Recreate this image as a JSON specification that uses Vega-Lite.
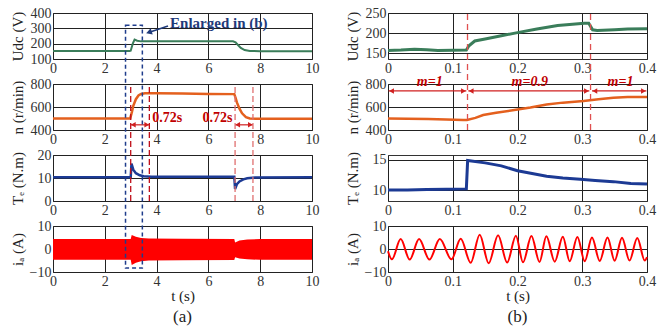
{
  "$schema": "https://vega.github.io/schema/vega-lite/v6.json",
  "padding": {"left": 9, "top": 5, "right": 3, "bottom": 3},
  "background": "white",
  "config": {
    "view": {"stroke": "#333", "strokeWidth": 1},
    "axis": {"labelFont": "Liberation Serif", "labelFontSize": 14, "labelColor": "#333", "titleFont": "Liberation Serif", "titleFontSize": 15, "titleFontWeight": "normal", "titleColor": "#222", "grid": true, "gridColor": "#222", "gridWidth": 1, "ticks": false, "domain": false, "labelPadding": 2, "labelFlush": false, "labelOverlap": false},
    "axisY": {"titleX": -36, "titleBaseline": "middle", "labelPadding": 2},
    "axisX": {"titlePadding": 0}
  },
  "datasets": {
    "udcA": [{"t":0,"v":152},{"t":1,"v":152.5},{"t":2,"v":152},{"t":2.95,"v":152},{"t":3.0,"v":154},{"t":3.08,"v":200},{"t":3.15,"v":227},{"t":3.25,"v":219},{"t":3.4,"v":215},{"t":4,"v":216},{"t":5,"v":216},{"t":6,"v":215},{"t":6.95,"v":215},{"t":7.05,"v":208},{"t":7.15,"v":190},{"t":7.25,"v":172},{"t":7.4,"v":158},{"t":7.6,"v":152},{"t":8,"v":151},{"t":10,"v":151}],
    "nA": [{"t":0,"v":500},{"t":2.98,"v":500},{"t":3.05,"v":560},{"t":3.1,"v":610},{"t":3.2,"v":668},{"t":3.3,"v":700},{"t":3.4,"v":713},{"t":3.55,"v":720},{"t":4,"v":720},{"t":5,"v":717},{"t":6,"v":714},{"t":7.0,"v":712},{"t":7.05,"v":680},{"t":7.1,"v":640},{"t":7.2,"v":585},{"t":7.3,"v":545},{"t":7.45,"v":512},{"t":7.6,"v":500},{"t":8,"v":497},{"t":10,"v":497}],
    "teA": [{"t":0,"v":10.3},{"t":3.0,"v":10.3},{"t":3.03,"v":16.3},{"t":3.1,"v":13.6},{"t":3.2,"v":12.1},{"t":3.35,"v":11.2},{"t":3.5,"v":10.8},{"t":3.8,"v":10.5},{"t":5,"v":10.5},{"t":7.0,"v":10.5},{"t":7.03,"v":5.2},{"t":7.1,"v":7.3},{"t":7.2,"v":8.5},{"t":7.35,"v":9.4},{"t":7.5,"v":9.9},{"t":7.8,"v":10.2},{"t":10,"v":10.3}],
    "iaA": [{"t":0,"hi":4.3,"lo":-4.7},{"t":3.0,"hi":4.3,"lo":-4.7},{"t":3.04,"hi":6.1,"lo":-7.0},{"t":3.2,"hi":5.3,"lo":-6.0},{"t":3.4,"hi":4.8,"lo":-5.3},{"t":3.7,"hi":4.6,"lo":-5.0},{"t":5,"hi":4.5,"lo":-4.9},{"t":7.0,"hi":4.4,"lo":-4.8},{"t":7.03,"hi":2.8,"lo":-3.6},{"t":7.2,"hi":3.7,"lo":-4.1},{"t":7.5,"hi":4.1,"lo":-4.5},{"t":8,"hi":4.3,"lo":-4.7},{"t":10,"hi":4.3,"lo":-4.7}],
    "boxA": [{"t0":2.8,"t1":3.45,"lo":-8.3,"hi":97.3}],
    "evA": [{"t":3.0,"kind":"up","lo":0,"hi":50.87},{"t":3.72,"kind":"up","lo":0,"hi":50.87},{"t":7.03,"kind":"down","lo":0,"hi":50.87},{"t":7.72,"kind":"down","lo":0,"hi":50.87}],
    "arrA": [{"t0":3.0,"t1":3.72,"v":445},{"t0":7.03,"t1":7.72,"v":445}],
    "headA": [{"t":3.1,"v":445,"dir":"left"},{"t":3.62,"v":445,"dir":"right"},{"t":7.13,"v":445,"dir":"left"},{"t":7.62,"v":445,"dir":"right"}],
    "noteA": [{"t":4.41,"v":502,"label":"0.72s"},{"t":6.35,"v":502,"label":"0.72s"}],
    "enl": [{"t":4.52,"v":337,"label":"Enlarged in (b)"}],
    "enlArrow": [{"t0":4.44,"v0":315,"t1":3.78,"v1":278}],
    "enlHead": [{"t":3.74,"v":276}],
    "capA": [{"t":5,"v":-29.6,"label":"(a)"}],
    "capB": [{"t":0.2,"v":-29.6,"label":"(b)"}],
    "udcB": [{"t":0,"v":156.5},{"t":0.02,"v":157.5},{"t":0.041,"v":159.5},{"t":0.06,"v":158},{"t":0.077,"v":156.5},{"t":0.1,"v":157},{"t":0.121,"v":157.4},{"t":0.125,"v":168},{"t":0.134,"v":180},{"t":0.15,"v":185},{"t":0.175,"v":193},{"t":0.2,"v":201},{"t":0.23,"v":210},{"t":0.262,"v":219},{"t":0.285,"v":222},{"t":0.303,"v":224.6},{"t":0.31,"v":224.6},{"t":0.316,"v":208},{"t":0.323,"v":206},{"t":0.35,"v":208},{"t":0.37,"v":210},{"t":0.4,"v":210.6}],
    "nB": [{"t":0,"v":500},{"t":0.03,"v":498},{"t":0.062,"v":496},{"t":0.09,"v":492},{"t":0.116,"v":488},{"t":0.122,"v":488},{"t":0.135,"v":505},{"t":0.147,"v":530},{"t":0.167,"v":550},{"t":0.2,"v":578},{"t":0.22,"v":595},{"t":0.245,"v":622},{"t":0.27,"v":638},{"t":0.302,"v":652},{"t":0.325,"v":668},{"t":0.348,"v":680},{"t":0.37,"v":686},{"t":0.4,"v":688}],
    "teB": [{"t":0,"v":10},{"t":0.03,"v":10},{"t":0.06,"v":10.1},{"t":0.09,"v":10.15},{"t":0.121,"v":10.2},{"t":0.123,"v":14.9},{"t":0.15,"v":14.5},{"t":0.175,"v":14.0},{"t":0.2,"v":13.2},{"t":0.245,"v":12.3},{"t":0.27,"v":12.0},{"t":0.297,"v":11.8},{"t":0.32,"v":11.6},{"t":0.348,"v":11.4},{"t":0.375,"v":11.1},{"t":0.4,"v":11.0}],
    "iaB": [{"t":0,"v":-1.0},{"t":0.006,"v":-4.5},{"t":0.0196,"v":4.3},{"t":0.0335,"v":-4.6},{"t":0.048,"v":4.3},{"t":0.064,"v":-4.6},{"t":0.08,"v":4.3},{"t":0.098,"v":-4.5},{"t":0.1123,"v":4.5},{"t":0.1277,"v":-6.0},{"t":0.1416,"v":6.2},{"t":0.1555,"v":-6.2},{"t":0.17,"v":6.0},{"t":0.184,"v":-5.9},{"t":0.1975,"v":5.8},{"t":0.2085,"v":-5.8},{"t":0.2215,"v":5.6},{"t":0.234,"v":-5.6},{"t":0.2446,"v":5.5},{"t":0.2575,"v":-5.5},{"t":0.27,"v":5.3},{"t":0.2806,"v":-5.3},{"t":0.2925,"v":5.2},{"t":0.3038,"v":-5.3},{"t":0.315,"v":5.0},{"t":0.327,"v":-5.2},{"t":0.339,"v":5.0},{"t":0.35,"v":-5.1},{"t":0.3614,"v":4.9},{"t":0.373,"v":-5.0},{"t":0.385,"v":4.8},{"t":0.3965,"v":-5.0},{"t":0.4,"v":-3.5}],
    "evB": [{"t":0.1228,"lo":400,"hi":1417.4},{"t":0.3128,"lo":400,"hi":1417.4}],
    "arrB": [{"t0":0.001,"t1":0.121,"v":740},{"t0":0.124,"t1":0.311,"v":740},{"t0":0.315,"t1":0.399,"v":740}],
    "headB": [{"t":0.0055,"v":740,"dir":"left"},{"t":0.1165,"v":740,"dir":"right"},{"t":0.1285,"v":740,"dir":"left"},{"t":0.3065,"v":740,"dir":"right"},{"t":0.3195,"v":740,"dir":"left"},{"t":0.3945,"v":740,"dir":"right"}],
    "mText": [{"t":0.0645,"v":817,"label":"m=1"},{"t":0.219,"v":817,"label":"m=0.9"},{"t":0.359,"v":817,"label":"m=1"}]
  },
  "columns": 2,
  "bounds": "flush",
  "spacing": {"row": 25, "column": 76},
  "concat": [
    {
      "width": 259, "height": 46,
      "layer": [
        {"data": {"name": "udcA"}, "mark": {"type": "line", "color": "#3a7d5a", "strokeWidth": 2},
         "encoding": {
           "x": {"field": "t", "type": "quantitative", "scale": {"domain": [0, 10], "nice": false, "zero": false}, "axis": {"values": [0,2,4,6,8,10], "title": null}},
           "y": {"field": "v", "type": "quantitative", "scale": {"domain": [100, 400], "nice": false, "zero": false}, "axis": {"values": [100,200,300,400], "title": "Udc (V)"}}}},
        {"data": {"name": "enlArrow"}, "mark": {"type": "rule", "color": "#1f3a7a", "strokeWidth": 1.5},
         "encoding": {
           "x": {"field": "t0", "type": "quantitative", "scale": {"domain": [0, 10], "nice": false, "zero": false}, "axis": {"values": [0,2,4,6,8,10], "title": null}},
           "x2": {"field": "t1"},
           "y": {"field": "v0", "type": "quantitative", "scale": {"domain": [100, 400], "nice": false, "zero": false}, "axis": {"values": [100,200,300,400], "title": "Udc (V)"}},
           "y2": {"field": "v1"}}},
        {"data": {"name": "enlHead"}, "mark": {"type": "point", "shape": "triangle", "filled": true, "color": "#1f3a7a", "size": 45, "angle": 252, "opacity": 1},
         "encoding": {
           "x": {"field": "t", "type": "quantitative", "scale": {"domain": [0, 10], "nice": false, "zero": false}, "axis": {"values": [0,2,4,6,8,10], "title": null}},
           "y": {"field": "v", "type": "quantitative", "scale": {"domain": [100, 400], "nice": false, "zero": false}, "axis": {"values": [100,200,300,400], "title": "Udc (V)"}}}},
        {"data": {"name": "enl"}, "mark": {"type": "text", "font": "Liberation Serif", "fontSize": 15, "fontWeight": "bold", "color": "#1f3a7a", "align": "left", "baseline": "middle"},
         "encoding": {
           "x": {"field": "t", "type": "quantitative", "scale": {"domain": [0, 10], "nice": false, "zero": false}, "axis": {"values": [0,2,4,6,8,10], "title": null}},
           "y": {"field": "v", "type": "quantitative", "scale": {"domain": [100, 400], "nice": false, "zero": false}, "axis": {"values": [100,200,300,400], "title": "Udc (V)"}},
           "text": {"field": "label"}}}
      ]
    },
    {
      "width": 259, "height": 46,
      "layer": [
        {"data": {"name": "udcB"}, "mark": {"type": "line", "color": "#3a7d5a", "strokeWidth": 3},
         "encoding": {
           "x": {"field": "t", "type": "quantitative", "scale": {"domain": [0, 0.4], "nice": false, "zero": false}, "axis": {"values": [0,0.1,0.2,0.3,0.4], "format": "~g", "title": null}},
           "y": {"field": "v", "type": "quantitative", "scale": {"domain": [135, 250], "nice": false, "zero": false}, "axis": {"values": [150,200,250], "title": "Udc (V)"}}}}
      ]
    },
    {
      "width": 259, "height": 46,
      "layer": [
        {"data": {"name": "nA"}, "mark": {"type": "line", "color": "#e4601e", "strokeWidth": 2.5},
         "encoding": {
           "x": {"field": "t", "type": "quantitative", "scale": {"domain": [0, 10], "nice": false, "zero": false}, "axis": {"values": [0,2,4,6,8,10], "title": null}},
           "y": {"field": "v", "type": "quantitative", "scale": {"domain": [400, 800], "nice": false, "zero": false}, "axis": {"values": [400,600,800], "title": "n (r/min)"}}}},
        {"data": {"name": "arrA"}, "mark": {"type": "rule", "color": "#d02020", "strokeWidth": 1.2},
         "encoding": {
           "x": {"field": "t0", "type": "quantitative", "scale": {"domain": [0, 10], "nice": false, "zero": false}, "axis": {"values": [0,2,4,6,8,10], "title": null}},
           "x2": {"field": "t1"},
           "y": {"field": "v", "type": "quantitative", "scale": {"domain": [400, 800], "nice": false, "zero": false}, "axis": {"values": [400,600,800], "title": "n (r/min)"}}}},
        {"data": {"name": "headA"}, "mark": {"type": "point", "filled": true, "color": "#d02020", "size": 30, "opacity": 1},
         "encoding": {
           "x": {"field": "t", "type": "quantitative", "scale": {"domain": [0, 10], "nice": false, "zero": false}, "axis": {"values": [0,2,4,6,8,10], "title": null}},
           "y": {"field": "v", "type": "quantitative", "scale": {"domain": [400, 800], "nice": false, "zero": false}, "axis": {"values": [400,600,800], "title": "n (r/min)"}},
           "shape": {"field": "dir", "type": "nominal", "scale": {"domain": ["left", "right"], "range": ["triangle-left", "triangle-right"]}, "legend": null}}},
        {"data": {"name": "noteA"}, "mark": {"type": "text", "font": "Liberation Serif", "fontSize": 14, "fontWeight": "bold", "color": "#c00000", "align": "center", "baseline": "middle"},
         "encoding": {
           "x": {"field": "t", "type": "quantitative", "scale": {"domain": [0, 10], "nice": false, "zero": false}, "axis": {"values": [0,2,4,6,8,10], "title": null}},
           "y": {"field": "v", "type": "quantitative", "scale": {"domain": [400, 800], "nice": false, "zero": false}, "axis": {"values": [400,600,800], "title": "n (r/min)"}},
           "text": {"field": "label"}}}
      ]
    },
    {
      "width": 259, "height": 46,
      "layer": [
        {"data": {"name": "nB"}, "mark": {"type": "line", "color": "#e4601e", "strokeWidth": 2.5},
         "encoding": {
           "x": {"field": "t", "type": "quantitative", "scale": {"domain": [0, 0.4], "nice": false, "zero": false}, "axis": {"values": [0,0.1,0.2,0.3,0.4], "format": "~g", "title": null}},
           "y": {"field": "v", "type": "quantitative", "scale": {"domain": [400, 800], "nice": false, "zero": false}, "axis": {"values": [400,600,800], "title": "n (r/min)"}}}},
        {"data": {"name": "evB"}, "mark": {"type": "rule", "color": "#e05050", "strokeWidth": 1.3, "strokeDash": [6, 4]},
         "encoding": {
           "x": {"field": "t", "type": "quantitative", "scale": {"domain": [0, 0.4], "nice": false, "zero": false}, "axis": {"values": [0,0.1,0.2,0.3,0.4], "format": "~g", "title": null}},
           "y": {"field": "lo", "type": "quantitative", "scale": {"domain": [400, 800], "nice": false, "zero": false}, "axis": {"values": [400,600,800], "title": "n (r/min)"}},
           "y2": {"field": "hi"}}},
        {"data": {"name": "arrB"}, "mark": {"type": "rule", "color": "#d02020", "strokeWidth": 1.2},
         "encoding": {
           "x": {"field": "t0", "type": "quantitative", "scale": {"domain": [0, 0.4], "nice": false, "zero": false}, "axis": {"values": [0,0.1,0.2,0.3,0.4], "format": "~g", "title": null}},
           "x2": {"field": "t1"},
           "y": {"field": "v", "type": "quantitative", "scale": {"domain": [400, 800], "nice": false, "zero": false}, "axis": {"values": [400,600,800], "title": "n (r/min)"}}}},
        {"data": {"name": "headB"}, "mark": {"type": "point", "filled": true, "color": "#d02020", "size": 30, "opacity": 1},
         "encoding": {
           "x": {"field": "t", "type": "quantitative", "scale": {"domain": [0, 0.4], "nice": false, "zero": false}, "axis": {"values": [0,0.1,0.2,0.3,0.4], "format": "~g", "title": null}},
           "y": {"field": "v", "type": "quantitative", "scale": {"domain": [400, 800], "nice": false, "zero": false}, "axis": {"values": [400,600,800], "title": "n (r/min)"}},
           "shape": {"field": "dir", "type": "nominal", "scale": {"domain": ["left", "right"], "range": ["triangle-left", "triangle-right"]}, "legend": null}}},
        {"data": {"name": "mText"}, "mark": {"type": "text", "font": "Liberation Serif", "fontSize": 14, "fontWeight": "bold", "fontStyle": "italic", "color": "#c00000", "align": "center", "baseline": "middle"},
         "encoding": {
           "x": {"field": "t", "type": "quantitative", "scale": {"domain": [0, 0.4], "nice": false, "zero": false}, "axis": {"values": [0,0.1,0.2,0.3,0.4], "format": "~g", "title": null}},
           "y": {"field": "v", "type": "quantitative", "scale": {"domain": [400, 800], "nice": false, "zero": false}, "axis": {"values": [400,600,800], "title": "n (r/min)"}},
           "text": {"field": "label"}}}
      ]
    },
    {
      "width": 259, "height": 46,
      "layer": [
        {"data": {"name": "teA"}, "mark": {"type": "line", "color": "#1c3a94", "strokeWidth": 2.5},
         "encoding": {
           "x": {"field": "t", "type": "quantitative", "scale": {"domain": [0, 10], "nice": false, "zero": false}, "axis": {"values": [0,2,4,6,8,10], "title": null}},
           "y": {"field": "v", "type": "quantitative", "scale": {"domain": [0, 20], "nice": false, "zero": false}, "axis": {"values": [0,10,20], "title": "Tₑ (N.m)"}}}},
        {"data": {"name": "evA"}, "transform": [{"filter": "datum.kind === 'up'"}], "mark": {"type": "rule", "color": "#c0101a", "strokeWidth": 1.3, "strokeDash": [6, 3]},
         "encoding": {
           "x": {"field": "t", "type": "quantitative", "scale": {"domain": [0, 10], "nice": false, "zero": false}, "axis": {"values": [0,2,4,6,8,10], "title": null}},
           "y": {"field": "lo", "type": "quantitative", "scale": {"domain": [0, 20], "nice": false, "zero": false}, "axis": {"values": [0,10,20], "title": "Tₑ (N.m)"}},
           "y2": {"field": "hi"}}},
        {"data": {"name": "evA"}, "transform": [{"filter": "datum.kind === 'down'"}], "mark": {"type": "rule", "color": "#e07070", "strokeWidth": 1.3, "strokeDash": [6, 3]},
         "encoding": {
           "x": {"field": "t", "type": "quantitative", "scale": {"domain": [0, 10], "nice": false, "zero": false}, "axis": {"values": [0,2,4,6,8,10], "title": null}},
           "y": {"field": "lo", "type": "quantitative", "scale": {"domain": [0, 20], "nice": false, "zero": false}, "axis": {"values": [0,10,20], "title": "Tₑ (N.m)"}},
           "y2": {"field": "hi"}}}
      ]
    },
    {
      "width": 259, "height": 46,
      "layer": [
        {"data": {"name": "teB"}, "mark": {"type": "line", "color": "#1c3a94", "strokeWidth": 3},
         "encoding": {
           "x": {"field": "t", "type": "quantitative", "scale": {"domain": [0, 0.4], "nice": false, "zero": false}, "axis": {"values": [0,0.1,0.2,0.3,0.4], "format": "~g", "title": null}},
           "y": {"field": "v", "type": "quantitative", "scale": {"domain": [8.2, 15.8], "nice": false, "zero": false}, "axis": {"values": [10,15], "title": "Tₑ (N.m)"}}}}
      ]
    },
    {
      "width": 259, "height": 46,
      "layer": [
        {"data": {"name": "iaA"}, "mark": {"type": "area", "color": "#ff0000", "opacity": 1},
         "encoding": {
           "x": {"field": "t", "type": "quantitative", "scale": {"domain": [0, 10], "nice": false, "zero": false}, "axis": {"values": [0,2,4,6,8,10], "title": "t (s)"}},
           "y": {"field": "hi", "type": "quantitative", "scale": {"domain": [-10, 10], "nice": false, "zero": false}, "axis": {"values": [-10,0,10], "title": "iₐ (A)"}},
           "y2": {"field": "lo"}}},
        {"data": {"name": "boxA"}, "mark": {"type": "rect", "fillOpacity": 0, "stroke": "#1f3d8c", "strokeWidth": 1.5, "strokeDash": [4, 3]},
         "encoding": {
           "x": {"field": "t0", "type": "quantitative", "scale": {"domain": [0, 10], "nice": false, "zero": false}, "axis": {"values": [0,2,4,6,8,10], "title": "t (s)"}},
           "x2": {"field": "t1"},
           "y": {"field": "lo", "type": "quantitative", "scale": {"domain": [-10, 10], "nice": false, "zero": false}, "axis": {"values": [-10,0,10], "title": "iₐ (A)"}},
           "y2": {"field": "hi"}}},
        {"data": {"name": "capA"}, "mark": {"type": "text", "font": "Liberation Serif", "fontSize": 17, "color": "#222", "align": "center", "baseline": "middle"},
         "encoding": {
           "x": {"field": "t", "type": "quantitative", "scale": {"domain": [0, 10], "nice": false, "zero": false}, "axis": {"values": [0,2,4,6,8,10], "title": "t (s)"}},
           "y": {"field": "v", "type": "quantitative", "scale": {"domain": [-10, 10], "nice": false, "zero": false}, "axis": {"values": [-10,0,10], "title": "iₐ (A)"}},
           "text": {"field": "label"}}}
      ]
    },
    {
      "width": 259, "height": 46,
      "layer": [
        {"data": {"name": "iaB"}, "mark": {"type": "line", "color": "#ff0000", "strokeWidth": 2, "interpolate": "monotone"},
         "encoding": {
           "x": {"field": "t", "type": "quantitative", "scale": {"domain": [0, 0.4], "nice": false, "zero": false}, "axis": {"values": [0,0.1,0.2,0.3,0.4], "format": "~g", "title": "t (s)"}},
           "y": {"field": "v", "type": "quantitative", "scale": {"domain": [-10, 10], "nice": false, "zero": false}, "axis": {"values": [-10,0,10], "title": "iₐ (A)"}}}},
        {"data": {"name": "capB"}, "mark": {"type": "text", "font": "Liberation Serif", "fontSize": 17, "color": "#222", "align": "center", "baseline": "middle"},
         "encoding": {
           "x": {"field": "t", "type": "quantitative", "scale": {"domain": [0, 0.4], "nice": false, "zero": false}, "axis": {"values": [0,0.1,0.2,0.3,0.4], "format": "~g", "title": "t (s)"}},
           "y": {"field": "v", "type": "quantitative", "scale": {"domain": [-10, 10], "nice": false, "zero": false}, "axis": {"values": [-10,0,10], "title": "iₐ (A)"}},
           "text": {"field": "label"}}}
      ]
    }
  ]
}
